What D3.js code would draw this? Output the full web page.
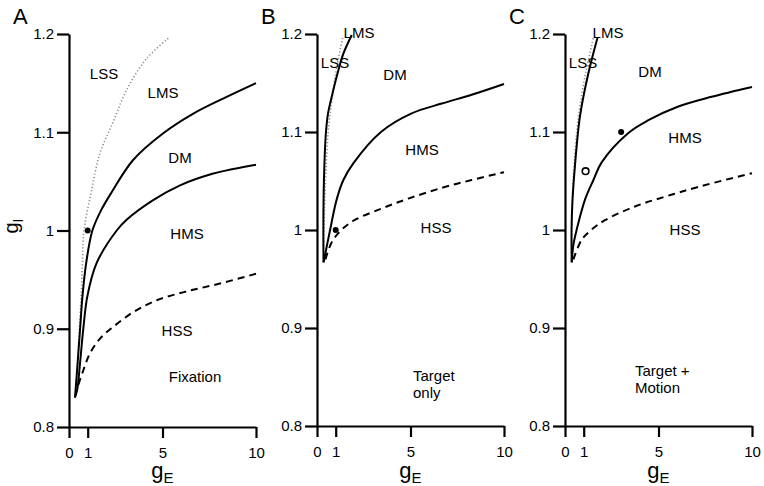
<!DOCTYPE html>
<html>
<head>
<meta charset="utf-8">
<script src="https://cdn.jsdelivr.net/npm/d3@7"></script>
<style>
  body { margin: 0; background: #fff; }
  svg { font-family: "Liberation Sans", Arial, Helvetica, sans-serif; }
</style>
</head>
<body>
<svg id="chart" width="764" height="486"></svg>
<script>
// ---------- data ----------
const xTicks = [0, 1, 5, 10];
const yTicks = [0.8, 0.9, 1, 1.1, 1.2];
const yTickLabels = ["0.8", "0.9", "1", "1.1", "1.2"];
const panelLetters = ["A", "B", "C"];

// Panel A (Fixation)
const aDottedX = [0.4, 0.46, 0.55, 0.65, 0.72, 0.8, 1.2, 1.66, 2.35, 3.08, 4.15, 5.4];
const aDottedY = [0.84, 0.865, 0.899, 0.933, 0.967, 1.0, 1.04, 1.079, 1.11, 1.143, 1.175, 1.197];
const aUpperX = [0.32, 0.46, 0.59, 0.72, 0.92, 1.25, 1.7, 2.25, 3.44, 5.04, 6.65, 8.43, 10];
const aUpperY = [0.83, 0.865, 0.899, 0.933, 0.967, 1.0, 1.02, 1.038, 1.072, 1.099, 1.119, 1.136, 1.15];
const aLowerX = [0.32, 0.44, 0.59, 0.76, 0.98, 1.48, 2.55, 3.08, 4.5, 5.94, 7.72, 10];
const aLowerY = [0.83, 0.838, 0.865, 0.899, 0.933, 0.967, 1.0, 1.011, 1.031, 1.046, 1.058, 1.067];
const aDashX = [0.5, 0.77, 1.12, 1.66, 2.37, 3.44, 4.69, 6.29, 8.07, 10];
const aDashY = [0.843, 0.858, 0.875, 0.89, 0.902, 0.917, 0.929, 0.938, 0.946, 0.956];
const aFilledX = [1];
const aFilledY = [1];

// Panel B (Target only)
const bDottedX = [0.35, 0.4, 0.48, 0.6, 0.78, 1.0, 1.2, 1.37];
const bDottedY = [0.967, 1.02, 1.06, 1.1, 1.13, 1.16, 1.18, 1.196];
const bUpperX = [0.35, 0.34, 0.37, 0.48, 0.6, 0.75, 1.1, 1.41, 1.86];
const bUpperY = [0.967, 1.0, 1.05, 1.1, 1.12, 1.133, 1.16, 1.18, 1.199];
const bLowerX = [0.35, 0.52, 0.7, 1.05, 1.41, 1.94, 3.42, 5.06, 6.67, 8.27, 10];
const bLowerY = [0.967, 0.983, 1.0, 1.031, 1.051, 1.068, 1.1, 1.119, 1.129, 1.138, 1.149];
const bDashX = [0.45, 0.8, 1.3, 2.0, 3.46, 4.88, 6.67, 8.27, 10];
const bDashY = [0.97, 0.988, 1.0, 1.01, 1.022, 1.032, 1.043, 1.051, 1.059];
const bFilledX = [1];
const bFilledY = [1];

// Panel C (Target + Motion)
const cDottedX = [0.36, 0.38, 0.48, 0.72, 1.1, 1.52];
const cDottedY = [0.967, 1.02, 1.065, 1.116, 1.16, 1.196];
const cUpperX = [0.36, 0.35, 0.4, 0.53, 0.8, 1.25, 1.75];
const cUpperY = [0.967, 1.0, 1.03, 1.065, 1.116, 1.16, 1.197];
const cLowerX = [0.36, 0.45, 0.62, 1.07, 1.52, 1.96, 3.39, 4.46, 6.06, 7.84, 10];
const cLowerY = [0.967, 0.985, 1.0, 1.031, 1.051, 1.069, 1.099, 1.112, 1.126, 1.136, 1.146];
const cDashX = [0.45, 0.89, 1.4, 2.14, 3.74, 5.35, 7.13, 10];
const cDashY = [0.97, 0.99, 1.0, 1.01, 1.024, 1.034, 1.044, 1.058];
const cFilledX = [3.0];
const cFilledY = [1.1];
const cOpenX = [1.1];
const cOpenY = [1.06];

// ---------- drawing ----------
const svg = d3.select("#chart");
const zip = (xs, ys) => xs.map((x, i) => [x, ys[i]]);

const panels = [
  { left: 69, top: 34, bottom: 427,
    dotted: zip(aDottedX, aDottedY), upper: zip(aUpperX, aUpperY), lower: zip(aLowerX, aLowerY),
    dash: zip(aDashX, aDashY), filled: zip(aFilledX, aFilledY), open: [],
    labels: [["LSS", 35, 45, "middle"], ["LMS", 94, 64, "middle"], ["DM", 111, 129, "middle"],
             ["HMS", 118, 205, "middle"], ["HSS", 108, 302, "middle"], ["Fixation", 126, 348, "middle"]] },
  { left: 317, top: 34, bottom: 426,
    dotted: zip(bDottedX, bDottedY), upper: zip(bUpperX, bUpperY), lower: zip(bLowerX, bLowerY),
    dash: zip(bDashX, bDashY), filled: zip(bFilledX, bFilledY), open: [],
    labels: [["LMS", 42, 4, "middle"], ["LSS", 18, 34, "middle"], ["DM", 78, 46, "middle"],
             ["HMS", 105, 121, "middle"], ["HSS", 119, 199, "middle"],
             ["Target", 96, 347, "start"], ["only", 96, 364, "start"]] },
  { left: 565, top: 34, bottom: 426,
    dotted: zip(cDottedX, cDottedY), upper: zip(cUpperX, cUpperY), lower: zip(cLowerX, cLowerY),
    dash: zip(cDashX, cDashY), filled: zip(cFilledX, cFilledY), open: zip(cOpenX, cOpenY),
    labels: [["LMS", 43, 4, "middle"], ["LSS", 18, 34, "middle"], ["DM", 85, 43, "middle"],
             ["HMS", 120, 109, "middle"], ["HSS", 120, 201, "middle"],
             ["Target +", 70, 342, "start"], ["Motion", 70, 359, "start"]] }
];

const W = 187;

panels.forEach((p, pi) => {
  const H = p.bottom - p.top;
  const x = d3.scaleLinear().domain([0, 10]).range([0, W]);
  const y = d3.scaleLinear().domain([0.8, 1.2]).range([H, 0]);
  const g = svg.append("g").attr("transform", `translate(${p.left},${p.top})`);

  // axes
  const ya = g.append("g").call(
    d3.axisLeft(y).tickValues(yTicks).tickFormat((d, i) => yTickLabels[i])
      .tickSize(12).tickSizeOuter(0).tickPadding(3));
  const xa = g.append("g").attr("transform", `translate(0,${H})`).call(
    d3.axisBottom(x).tickValues(xTicks).tickFormat(d3.format("d"))
      .tickSize(11).tickSizeOuter(0).tickPadding(9));
  [ya, xa].forEach(a => {
    a.selectAll("path.domain").attr("stroke", "#000").attr("stroke-width", 2.2);
    a.selectAll(".tick line").attr("stroke", "#000").attr("stroke-width", 2.2);
    a.selectAll(".tick text").attr("font-size", 15).attr("fill", "#000")
      .attr("font-family", "Liberation Sans, Arial, sans-serif");
  });

  const line = d3.line().x(d => x(d[0])).y(d => y(d[1])).curve(d3.curveCatmullRom.alpha(0.5));

  g.append("path").attr("d", line(p.dotted)).attr("fill", "none")
    .attr("stroke", "#8c8c8c").attr("stroke-width", 1.6).attr("stroke-dasharray", "1.2,2.2");
  g.append("path").attr("d", line(p.upper)).attr("fill", "none")
    .attr("stroke", "#000").attr("stroke-width", 2).attr("stroke-linejoin", "round");
  g.append("path").attr("d", line(p.lower)).attr("fill", "none")
    .attr("stroke", "#000").attr("stroke-width", 2).attr("stroke-linejoin", "round");
  g.append("path").attr("d", line(p.dash)).attr("fill", "none")
    .attr("stroke", "#000").attr("stroke-width", 2).attr("stroke-dasharray", "7,5");

  g.selectAll("circle.f").data(p.filled).enter().append("circle")
    .attr("cx", d => x(d[0])).attr("cy", d => y(d[1])).attr("r", 3).attr("fill", "#000");
  g.selectAll("circle.o").data(p.open).enter().append("circle")
    .attr("cx", d => x(d[0])).attr("cy", d => y(d[1])).attr("r", 3.3)
    .attr("fill", "#fff").attr("stroke", "#000").attr("stroke-width", 1.6);

  p.labels.forEach(l => {
    g.append("text").attr("x", l[1]).attr("y", l[2]).attr("text-anchor", l[3])
      .attr("font-size", 15).attr("fill", "#000").text(l[0]);
  });

  // x-axis title g_E
  const xt = g.append("text").attr("x", x(5)).attr("y", 478 - p.top)
    .attr("text-anchor", "middle").attr("fill", "#000");
  xt.append("tspan").attr("font-size", 22).text("g");
  xt.append("tspan").attr("font-size", 15).attr("dy", 5).text("E");

  // panel letter
  svg.append("text").attr("x", p.left - 56).attr("y", 24)
    .attr("font-size", 22).attr("fill", "#000").text(panelLetters[pi]);
});

// y-axis title g_I
const yt = svg.append("text").attr("transform", "translate(18,226) rotate(-90)")
  .attr("text-anchor", "middle").attr("fill", "#000");
yt.append("tspan").attr("font-size", 20).text("g");
yt.append("tspan").attr("font-size", 14).attr("dy", 5).text("I");
</script>
</body>
</html>
